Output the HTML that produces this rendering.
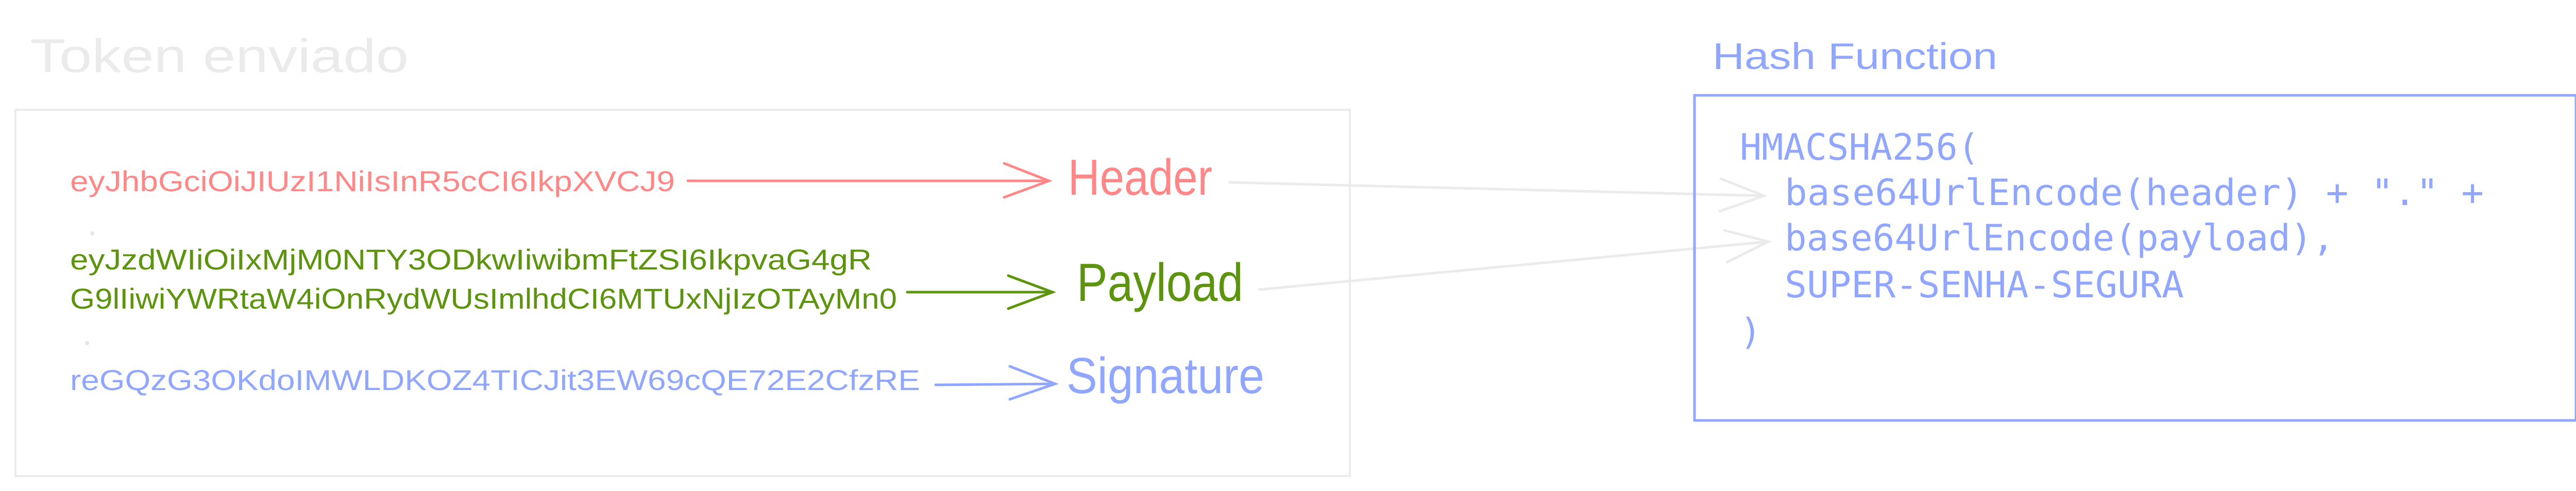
<!DOCTYPE html>
<html><head><meta charset="utf-8"><style>
html,body{margin:0;padding:0;background:#fff;}
svg{display:block;}
.h{font-family:"Liberation Sans Narrow","Liberation Sans",sans-serif;}
.m{font-family:"DejaVu Sans Mono","Liberation Mono",monospace;}
</style></head><body>
<svg width="5032" height="953" viewBox="0 0 5032 953" xmlns="http://www.w3.org/2000/svg">
<rect width="5032" height="953" fill="#fff"/>
<text class="h" x="58" y="140" font-size="92" fill="#ebebeb" textLength="735" lengthAdjust="spacingAndGlyphs">Token enviado</text>
<rect x="30" y="213" width="2590" height="711" fill="none" stroke="#ebebeb" stroke-width="4"/>

<!-- Header -->
<text class="h" x="136" y="371" font-size="56" fill="#ff8787" textLength="1174" lengthAdjust="spacingAndGlyphs">eyJhbGciOiJIUzI1NiIsInR5cCI6IkpXVCJ9</text>
<g stroke="#ff8787" stroke-width="5" fill="none" stroke-linecap="round">
<line x1="1335" y1="351" x2="2036" y2="351"/>
<polyline points="1949,317 2036,351 1949,383"/>
</g>
<text class="h" x="2073" y="378" font-size="98" fill="#ff8787" textLength="280" lengthAdjust="spacingAndGlyphs">Header</text>

<circle cx="179" cy="453" r="4" fill="#e6e6e6"/>

<!-- Payload -->
<text class="h" x="136" y="523" font-size="56" fill="#5c940d" textLength="1556" lengthAdjust="spacingAndGlyphs">eyJzdWIiOiIxMjM0NTY3ODkwIiwibmFtZSI6IkpvaG4gR</text>
<text class="h" x="136" y="599" font-size="56" fill="#5c940d" textLength="1605" lengthAdjust="spacingAndGlyphs">G9lIiwiYWRtaW4iOnRydWUsImlhdCI6MTUxNjIzOTAyMn0</text>
<g stroke="#5c940d" stroke-width="5" fill="none" stroke-linecap="round">
<line x1="1761" y1="567" x2="2043" y2="567"/>
<polyline points="1957,535 2043,567 1957,599"/>
</g>
<text class="h" x="2090" y="584" font-size="104" fill="#5c940d" textLength="323" lengthAdjust="spacingAndGlyphs">Payload</text>

<circle cx="169" cy="666" r="4" fill="#e6e6e6"/>

<!-- Signature -->
<text class="h" x="136" y="757" font-size="56" fill="#91a7ff" textLength="1650" lengthAdjust="spacingAndGlyphs">reGQzG3OKdoIMWLDKOZ4TICJit3EW69cQE72E2CfzRE</text>
<g stroke="#91a7ff" stroke-width="5" fill="none" stroke-linecap="round">
<line x1="1816" y1="747" x2="2048" y2="745"/>
<polyline points="1960,711 2048,745 1960,775"/>
</g>
<text class="h" x="2070" y="763" font-size="98" fill="#91a7ff" textLength="384" lengthAdjust="spacingAndGlyphs">Signature</text>

<!-- gray connectors -->
<g stroke="#ebebeb" stroke-width="5" fill="none" stroke-linecap="round">
<line x1="2387" y1="354" x2="3424" y2="380"/>
<polyline points="3340,347 3424,380 3338,410"/>
<line x1="2445" y1="562" x2="3432" y2="469"/>
<polyline points="3347,447 3432,469 3352,509"/>
</g>

<!-- Hash function -->
<text class="h" x="3324" y="134" font-size="72" fill="#91a7ff" textLength="553" lengthAdjust="spacingAndGlyphs">Hash Function</text>
<rect x="3289" y="185" width="1711" height="631" fill="none" stroke="#91a7ff" stroke-width="5"/>
<g class="m" font-size="70" fill="#91a7ff">
<text x="3377" y="310" textLength="465" lengthAdjust="spacingAndGlyphs">HMACSHA256(</text>
<text x="3464" y="398" textLength="1357" lengthAdjust="spacingAndGlyphs">base64UrlEncode(header) + "." +</text>
<text x="3464" y="486" textLength="1067" lengthAdjust="spacingAndGlyphs">base64UrlEncode(payload),</text>
<text x="3464" y="577" textLength="775" lengthAdjust="spacingAndGlyphs">SUPER-SENHA-SEGURA</text>
<text x="3377" y="668">)</text>
</g>
</svg>
</body></html>
